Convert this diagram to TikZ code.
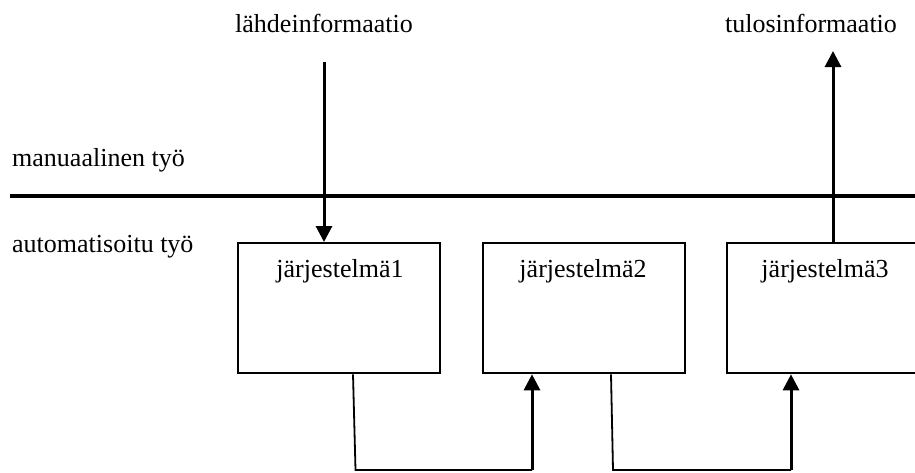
\documentclass[tikz,border=0pt]{standalone}
\usepackage{fontspec}
\setmainfont{Liberation Serif}
\usetikzlibrary{arrows.meta}
\begin{document}
\begin{tikzpicture}[x=1pt,y=-1pt,
  lbl/.style={font=\fontsize{26}{30}\selectfont, inner sep=0pt, anchor=base},
  leftlbl/.style={lbl, anchor=base west},
  sysbox/.style={draw, line width=2.3pt, minimum width=202pt, minimum height=130pt,
                 inner sep=0pt, anchor=north west},
  flow/.style={line width=3pt, -{Triangle[length=16pt,width=16pt]}},
  link/.style={line width=1.8pt},
  divider/.style={line width=4.5pt}]
  \clip (0,0) rectangle (915,472);

  % layer labels and the dividing line
  \node[leftlbl] (manual) at (12,166) {manuaalinen työ};
  \node[leftlbl] (auto) at (12,252) {automatisoitu työ};
  \coordinate (divL) at (10,196);
  \coordinate (divR) at (915,196);
  \draw[divider] (divL) -- (divR);

  % systems
  \node[sysbox] (s1) at (237,242) {};
  \node[sysbox] (s2) at (482,242) {};
  \node[sysbox] (s3) at (726,242) {};
  \node[lbl] (t1) at (340,277) {järjestelmä1};
  \node[lbl] (t2) at (583,277) {järjestelmä2};
  \node[lbl] (t3) at (825,277) {järjestelmä3};

  % input and output information
  \node[lbl] (src) at (324,32) {lähdeinformaatio};
  \node[lbl] (res) at (811,32) {tulosinformaatio};
  \coordinate (srcEnd) at (324,62);
  \coordinate (resEnd) at (833,51);
  \draw[flow] (srcEnd) -- (srcEnd |- s1.north);
  \draw[flow] (resEnd |- s3.north) -- (resEnd);

  % links between the systems
  \coordinate (a1) at (353,372);
  \coordinate (a2) at (355.5,470);
  \coordinate (a3) at (532,470);
  \coordinate (b1) at (611,372);
  \coordinate (b2) at (613,470);
  \coordinate (b3) at (791,470);
  \draw[link] (a1 |- s1.south) -- (a2) -- (a3);
  \draw[flow] (a3) -- (a3 |- s2.south);
  \draw[link] (b1 |- s2.south) -- (b2) -- (b3);
  \draw[flow] (b3) -- (b3 |- s3.south);
\end{tikzpicture}
\end{document}
